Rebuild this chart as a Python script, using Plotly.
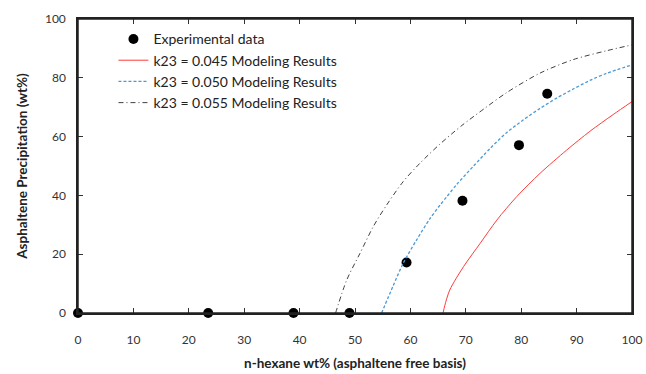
import plotly.graph_objects as go

# Experimental asphaltene precipitation vs n-hexane content
exp_x = [0, 23.5, 38.9, 49.0, 59.3, 69.4, 79.6, 84.7]
exp_y = [0, 0, 0, 0, 17.2, 38.2, 57.1, 74.6]

# Modeling results for three k23 values
k045_x = [65.9, 66.2, 67.1, 69.6, 72.6, 75.6, 79.2, 83.4, 88.2, 92.4, 96.6, 100]
k045_y = [0, 2.5, 7.8, 15.8, 23.7, 31.6, 39.6, 47.5, 55.4, 61.8, 67.5, 71.9]

k050_x = [54.8, 56.9, 58.7, 61.1, 63.5, 65.3, 66.5, 68.4, 71.4, 74.4, 77.4, 80.4, 83.4, 86.4, 89.4, 92.4, 95.4, 100]
k050_y = [0, 9.3, 16.9, 24.8, 32.0, 36.6, 39.4, 43.8, 50.0, 56.0, 61.4, 65.7, 69.6, 73.1, 76.2, 79.1, 81.5, 84.4]

k055_x = [46.5, 48.5, 50.9, 53.3, 55.7, 58.7, 61.7, 65.3, 69.3, 73.4, 77.4, 83.4, 89.4, 95.4, 100]
k055_y = [0, 11.2, 20.3, 29.4, 36.7, 44.7, 50.9, 57.4, 63.8, 69.6, 75.0, 81.6, 86.2, 89.2, 91.2]

x_ticks = [0, 10, 20, 30, 40, 50, 60, 70, 80, 90, 100]
y_ticks = [0, 20, 40, 60, 80, 100]

FONT = "Lato, 'Open Sans', sans-serif"

fig = go.Figure()
fig.add_trace(go.Scatter(
    x=exp_x, y=exp_y, mode="markers", name="Experimental data",
    marker=dict(color="black", size=10), cliponaxis=False,
))
fig.add_trace(go.Scatter(
    x=k045_x, y=k045_y, mode="lines", name="k23 = 0.045 Modeling Results",
    line=dict(color="#FF3B3B", width=1, shape="spline", smoothing=0.8),
))
fig.add_trace(go.Scatter(
    x=k050_x, y=k050_y, mode="lines", name="k23 = 0.050 Modeling Results",
    line=dict(color="#4A9AD8", width=1.3, dash="3px,2px", shape="spline", smoothing=0.8),
))
fig.add_trace(go.Scatter(
    x=k055_x, y=k055_y, mode="lines", name="k23 = 0.055 Modeling Results",
    line=dict(color="#404040", width=1, dash="5px,3px,1px,3px", shape="spline", smoothing=0.8),
))

axis_common = dict(
    showline=True, linecolor="#222222", linewidth=1.5, mirror="ticks",
    showgrid=False, zeroline=False, ticks="inside", ticklen=5,
    tickcolor="#333333", tickfont=dict(family=FONT, size=12, color="#333333"),
    automargin=False,
)

fig.update_layout(
    width=646, height=374,
    margin=dict(l=78, r=14, t=19, b=61),
    paper_bgcolor="white", plot_bgcolor="white",
    font=dict(family=FONT, color="#333333"),
    showlegend=True,
    legend=dict(
        x=0.064, y=0.985, xanchor="left", yanchor="top",
        bgcolor="rgba(0,0,0,0)", font=dict(family=FONT, size=14, color="#222222"),
        itemwidth=30, tracegroupgap=0,
    ),
    xaxis=dict(
        range=[0, 100], tickvals=x_ticks, ticklabelstandoff=15,
        title=dict(text="<b>n-hexane wt% (asphaltene free basis)</b>",
                   font=dict(family=FONT, size=13.5, color="#222222"), standoff=12),
        **axis_common,
    ),
    yaxis=dict(
        range=[0, 100], tickvals=y_ticks, ticklabelstandoff=8,
        title=dict(text="<b>Asphaltene Precipitation (wt%)</b>",
                   font=dict(family=FONT, size=13.5, color="#222222"), standoff=14),
        **axis_common,
    ),
    shapes=[dict(type="rect", xref="paper", yref="paper", x0=0, y0=0, x1=1, y1=1,
                 line=dict(color="#222222", width=1.5), layer="above")],
)

fig.write_html("out.html")
